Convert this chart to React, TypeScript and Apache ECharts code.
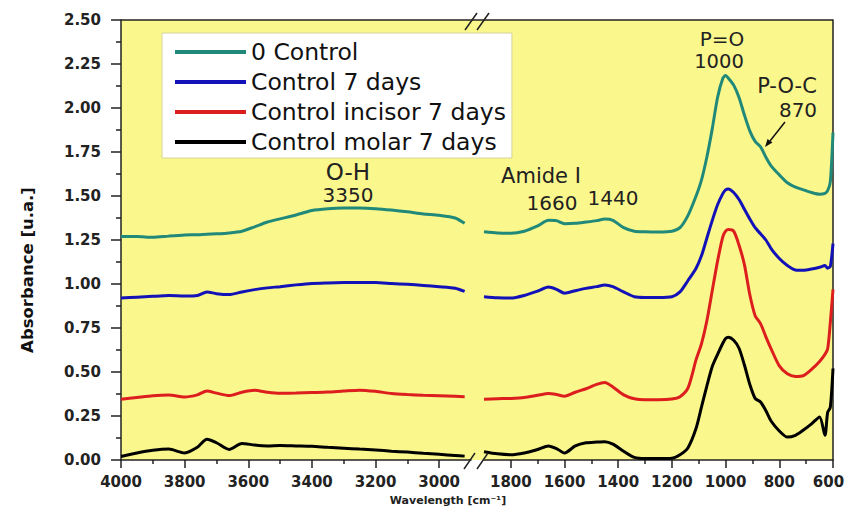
import React, { useEffect, useRef } from "react";
import * as echarts from "echarts";

// ---------- data ----------
const seriesNames = ["0 Control", "Control 7 days", "Control incisor 7 days", "Control molar 7 days"];
const seriesColors = ["#21897a", "#1212b8", "#dc1e1e", "#000000"];

// left segment (4000 → 2900 cm-1)
const wnLeft = [4000, 3950, 3900, 3850, 3800, 3760, 3730, 3700, 3660, 3620, 3580, 3540, 3500, 3450, 3400, 3350, 3300, 3250, 3200, 3150, 3100, 3050, 3000, 2950, 2920];
const control0Left = [1.27, 1.27, 1.265, 1.272, 1.278, 1.28, 1.283, 1.285, 1.29, 1.3, 1.325, 1.352, 1.37, 1.392, 1.418, 1.428, 1.432, 1.432, 1.428, 1.42, 1.41, 1.398, 1.39, 1.375, 1.345];
const control7Left = [0.92, 0.925, 0.93, 0.934, 0.932, 0.935, 0.955, 0.945, 0.94, 0.955, 0.968, 0.978, 0.985, 0.995, 1.003, 1.006, 1.008, 1.009, 1.008, 1.003, 0.998, 0.992, 0.985, 0.976, 0.958];
const incisorLeft = [0.345, 0.355, 0.365, 0.369, 0.358, 0.37, 0.392, 0.38, 0.366, 0.385, 0.396, 0.385, 0.379, 0.38, 0.383, 0.386, 0.392, 0.397, 0.39, 0.378, 0.372, 0.368, 0.365, 0.362, 0.36];
const molarLeft = [0.02, 0.04, 0.055, 0.062, 0.04, 0.072, 0.118, 0.098, 0.06, 0.094, 0.085, 0.08, 0.082, 0.08, 0.078, 0.072, 0.067, 0.062, 0.057, 0.05, 0.045, 0.038, 0.032, 0.026, 0.022];

// right segment (1900 → 600 cm-1)
const wnRight = [1900, 1850, 1800, 1750, 1700, 1660, 1630, 1600, 1560, 1520, 1480, 1450, 1420, 1380, 1340, 1300, 1250, 1200, 1170, 1140, 1110, 1090, 1070, 1050, 1030, 1010, 1000, 990, 970, 950, 930, 910, 890, 870, 850, 830, 800, 770, 740, 710, 680, 650, 630, 620, 610, 600];
const control0Right = [1.297, 1.29, 1.288, 1.3, 1.33, 1.362, 1.36, 1.343, 1.345, 1.352, 1.36, 1.369, 1.362, 1.32, 1.3, 1.297, 1.296, 1.3, 1.32, 1.39, 1.5, 1.59, 1.72, 1.88, 2.06, 2.17, 2.185, 2.17, 2.13, 2.06, 1.96, 1.87, 1.81, 1.78, 1.72, 1.67, 1.62, 1.575, 1.55, 1.535, 1.52, 1.51, 1.515, 1.53, 1.58, 1.86];
const control7Right = [0.928, 0.922, 0.92, 0.935, 0.96, 0.983, 0.97, 0.948, 0.962, 0.975, 0.985, 0.995, 0.985, 0.955, 0.928, 0.924, 0.924, 0.928, 0.955, 1.02, 1.09, 1.16, 1.26, 1.36, 1.45, 1.515, 1.535, 1.54, 1.52, 1.48, 1.425, 1.37, 1.32, 1.285, 1.25, 1.2, 1.145, 1.105, 1.08, 1.078, 1.085, 1.095, 1.105, 1.09, 1.1, 1.23];
const incisorRight = [0.345, 0.348, 0.35, 0.355, 0.368, 0.378, 0.372, 0.362, 0.385, 0.405, 0.43, 0.44, 0.415, 0.37, 0.348, 0.343, 0.343, 0.347, 0.36, 0.41, 0.57, 0.66, 0.79, 0.96, 1.13, 1.27, 1.3, 1.31, 1.3, 1.22, 1.11, 0.94, 0.82, 0.775, 0.7, 0.63, 0.535, 0.49, 0.475, 0.48, 0.515, 0.56, 0.6, 0.63, 0.78, 0.97];
const molarRight = [0.047, 0.035, 0.03, 0.04, 0.06, 0.08, 0.065, 0.04, 0.08, 0.098, 0.102, 0.104, 0.09, 0.05, 0.015, 0.008, 0.008, 0.01, 0.03, 0.07, 0.18, 0.3, 0.42, 0.53, 0.6, 0.665, 0.69, 0.697, 0.68, 0.635, 0.54, 0.43, 0.35, 0.33, 0.28, 0.22, 0.165, 0.13, 0.14, 0.17, 0.205, 0.245, 0.14, 0.27, 0.3, 0.52];

const xLabelsLeft = [4000, 3800, 3600, 3400, 3200, 3000];
const xMinorLeft = [3900, 3700, 3500, 3300, 3100];
const xLabelsRight = [1800, 1600, 1400, 1200, 1000, 800, 600];
const xMinorRight = [1700, 1500, 1300, 1100, 900, 700];

const yTitle = "Absorbance [u.a.]";
const xTitle = "Wavelength [cm⁻¹]";

// ---------- chart ----------
const AXIS_COLOR = "#222";
const TICK_FONT = { fontFamily: "DejaVu Sans", fontWeight: "bold" as const, fontSize: 15, color: "#222" };
const ANN_FONT = "DejaVu Sans";

function buildOption() {
  const leftVals = [control0Left, control7Left, incisorLeft, molarLeft];
  const rightVals = [control0Right, control7Right, incisorRight, molarRight];
  const series: any[] = [];
  seriesNames.forEach((name, i) => {
    const color = seriesColors[i];
    const common = {
      type: "line",
      name,
      symbol: "none",
      showSymbol: false,
      smooth: 0.25,
      lineStyle: { width: 3, color },
      itemStyle: { color },
      z: 3 + (3 - i),
    };
    series.push({ ...common, xAxisIndex: 0, yAxisIndex: 0, data: wnLeft.map((w, j) => [w, leftVals[i][j]]) });
    series.push({ ...common, xAxisIndex: 1, yAxisIndex: 1, data: wnRight.map((w, j) => [w, rightVals[i][j]]) });
  });

  const lineStyle = { color: AXIS_COLOR, width: 1.5 };
  const annotations = [
    { text: "O-H", x: 348, y: 172, size: 23 },
    { text: "3350", x: 348, y: 195, size: 20 },
    { text: "Amide I", x: 541, y: 176, size: 21 },
    { text: "1660", x: 552, y: 203, size: 20 },
    { text: "1440", x: 613, y: 198, size: 20 },
    { text: "P=O", x: 722, y: 39, size: 20 },
    { text: "1000", x: 719, y: 61, size: 19.5 },
    { text: "P-O-C", x: 787, y: 86, size: 21 },
    { text: "870", x: 798, y: 110, size: 20 },
  ];

  const graphic: any[] = [
    { type: "rect", z: -10, silent: true, shape: { x: 121, y: 20, width: 712, height: 440 }, style: { fill: "#faf78c" } },
    { type: "line", z: 5, silent: true, shape: { x1: 121, y1: 20, x2: 833, y2: 20 }, style: { stroke: AXIS_COLOR, lineWidth: 1.5 } },
    // break marks top
    { type: "line", z: 5, shape: { x1: 465, y1: 30, x2: 477, y2: 13 }, style: { stroke: AXIS_COLOR, lineWidth: 1.5 } },
    { type: "line", z: 5, shape: { x1: 477, y1: 30, x2: 489, y2: 13 }, style: { stroke: AXIS_COLOR, lineWidth: 1.5 } },
    // break marks bottom
    { type: "line", z: 5, shape: { x1: 464, y1: 469, x2: 475, y2: 453 }, style: { stroke: AXIS_COLOR, lineWidth: 1.5 } },
    { type: "line", z: 5, shape: { x1: 477, y1: 469, x2: 488, y2: 453 }, style: { stroke: AXIS_COLOR, lineWidth: 1.5 } },
    ...annotations.map((a) => ({
      type: "text",
      z: 10,
      x: a.x,
      y: a.y,
      style: { text: a.text, fill: "#222", font: `${a.size}px "${ANN_FONT}"`, textAlign: "center", textVerticalAlign: "middle" },
    })),
    // arrow to P-O-C shoulder
    { type: "line", z: 10, shape: { x1: 785, y1: 122, x2: 770, y2: 141 }, style: { stroke: "#111", lineWidth: 1.5 } },
    { type: "polygon", z: 10, shape: { points: [[765, 147], [772.5, 142.5], [767.5, 139]] }, style: { fill: "#111" } },
    // axis titles
    {
      type: "text",
      z: 10,
      x: 27,
      y: 270,
      rotation: Math.PI / 2,
      style: { text: yTitle, fill: "#111", font: `bold 16.5px "DejaVu Sans"`, textAlign: "center", textVerticalAlign: "middle" },
    },
    {
      type: "text",
      z: 10,
      x: 448,
      y: 500,
      style: { text: xTitle, fill: "#222", font: `bold 11px "DejaVu Sans"`, textAlign: "center", textVerticalAlign: "middle" },
    },
  ];

  const plain = (v: number) => String(v);
  const lastRight = xLabelsRight[xLabelsRight.length - 1];
  const rightFmt = (v: number) => (v === lastRight ? `{e|${v}}` : String(v));

  return {
    animation: false,
    backgroundColor: "#ffffff",
    grid: [
      { left: 121, top: 20, width: 350, height: 440, outerBoundsMode: "none", containLabel: false },
      { left: 484, top: 20, width: 349, height: 440, outerBoundsMode: "none", containLabel: false },
    ],
    legend: {
      data: seriesNames,
      orient: "vertical",
      left: 162,
      top: 33,
      backgroundColor: "#ffffff",
      borderColor: "#d6d49a",
      borderWidth: 1,
      padding: [4, 6, 1, 13],
      itemGap: 0,
      itemWidth: 71,
      itemHeight: 4,
      icon: "rect",
      selectedMode: false,
      textStyle: { fontFamily: "DejaVu Sans", fontSize: 23.5, color: "#111", lineHeight: 30 },
    },
    xAxis: [
      {
        gridIndex: 0, type: "value", min: 2900, max: 4000, inverse: true, position: "bottom",
        axisLine: { show: true, lineStyle },
        axisTick: { show: true, customValues: xLabelsLeft, length: 8, lineStyle },
        axisLabel: { customValues: xLabelsLeft, margin: 14, formatter: plain, ...TICK_FONT },
        splitLine: { show: false },
      },
      {
        gridIndex: 1, type: "value", min: 600, max: 1900, inverse: true, position: "bottom",
        axisLine: { show: true, lineStyle },
        axisTick: { show: true, customValues: xLabelsRight, length: 8, lineStyle },
        axisLabel: {
          customValues: xLabelsRight, margin: 14, formatter: rightFmt, ...TICK_FONT,
          rich: { e: { ...TICK_FONT, padding: [0, 9, 0, 0] } },
        },
        splitLine: { show: false },
      },
      {
        gridIndex: 0, type: "value", min: 2900, max: 4000, inverse: true, position: "bottom",
        axisLine: { show: false },
        axisTick: { show: true, customValues: xMinorLeft, length: 4, lineStyle },
        axisLabel: { show: false },
        splitLine: { show: false },
      },
      {
        gridIndex: 1, type: "value", min: 600, max: 1900, inverse: true, position: "bottom",
        axisLine: { show: false },
        axisTick: { show: true, customValues: xMinorRight, length: 4, lineStyle },
        axisLabel: { show: false },
        splitLine: { show: false },
      },
    ],
    yAxis: [
      {
        gridIndex: 0, type: "value", min: 0, max: 2.5, interval: 0.25,
        axisLine: { show: true, lineStyle },
        axisTick: { show: true, length: 10, lineStyle },
        minorTick: { show: true, splitNumber: 2, length: 5, lineStyle },
        axisLabel: { margin: 20, formatter: (v: number) => v.toFixed(2), ...TICK_FONT },
        splitLine: { show: false },
        minorSplitLine: { show: false },
      },
      {
        gridIndex: 1, type: "value", min: 0, max: 2.5, position: "right",
        axisLine: { show: true, lineStyle },
        axisTick: { show: false },
        axisLabel: { show: false },
        splitLine: { show: false },
      },
    ],
    graphic,
    series,
  };
}

export default function App() {
  const ref = useRef<HTMLDivElement>(null);
  useEffect(() => {
    if (!ref.current) return;
    const chart = echarts.init(ref.current, null, { renderer: "svg" });
    chart.setOption(buildOption() as any);
    return () => chart.dispose();
  }, []);
  return <div ref={ref} style={{ position: "absolute", left: 0, top: 0, width: 845, height: 513 }} />;
}
